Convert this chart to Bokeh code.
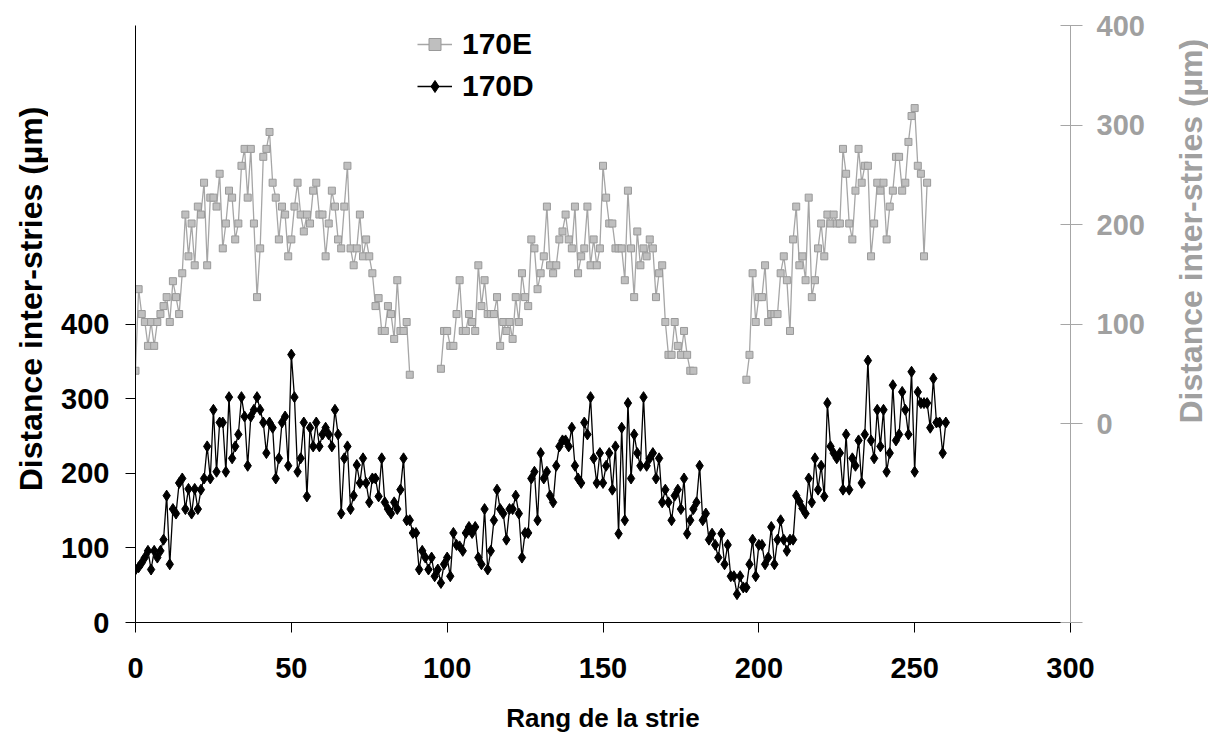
import math
import numpy as np
from bokeh.plotting import figure
from bokeh.layouts import row
from bokeh.models import (Range1d, LinearAxis, FixedTicker, Legend, LegendItem,
                          Label, ColumnDataSource)
from bokeh.embed import file_html
from bokeh.resources import INLINE

nan = float("nan")

# ---------------- data ----------------
series_e_name = "170E"
series_d_name = "170D"

# 170E (right axis), gaps where no measurement
e_seg1 = [53, 135, 110, 102, 78, 102, 78, 102, 110, 118, 127, 102, 143, 127, 110, 151, 210, 168, 201, 159,
          218, 210, 242, 159, 227, 227, 218, 251, 176, 201, 234, 227, 185, 201, 259, 276, 227, 276, 201, 127,
          176, 268, 276, 293, 242, 227, 185, 218, 210, 168, 185, 218, 242, 210, 193, 210, 201, 234, 242, 210,
          210, 168, 201, 234, 218, 185, 176, 218, 259, 176, 159, 176, 210, 168, 185, 168, 151, 118, 126, 93,
          93, 118, 110, 85, 144, 93, 93, 102, 49]
e_seg2 = [55, 93, 93, 78, 78, 110, 144, 93, 93, 110, 102, 93, 159, 118, 144, 110, 110, 110, 127, 78,
          102, 93, 102, 85, 127, 102, 151, 127, 118, 185, 176, 135, 151, 168, 218, 159, 151, 159, 185, 193,
          210, 185, 176, 218, 151, 168, 176, 218, 159, 185, 159, 176, 259, 227, 201, 201, 176, 176, 176, 144,
          234, 176, 127, 193, 159, 176, 168, 185, 176, 127, 151, 159, 102, 69, 69, 102, 78, 69, 93, 69,
          53, 53]
e_seg3 = [44, 69, 151, 102, 127, 127, 159, 102, 110, 110, 110, 151, 168, 144, 93, 185, 218, 159, 168, 144,
          227, 127, 144, 176, 201, 168, 210, 201, 210, 201, 201, 276, 251, 201, 185, 234, 276, 242, 259, 259,
          168, 201, 242, 234, 242, 185, 218, 234, 268, 268, 234, 242, 283, 309, 317, 259, 251, 168, 242]
e_values = e_seg1 + [nan] * 9 + e_seg2 + [nan] * 16 + e_seg3

# 170D (left axis)
d_values = [71, 74, 80, 87, 96, 71, 96, 87, 96, 111, 170, 78, 152, 146, 187, 193, 152, 179, 146, 179,
            152, 178, 193, 236, 193, 285, 202, 268, 268, 202, 302, 220, 236, 252, 302, 276, 210, 276, 285, 302,
            285, 268, 227, 268, 261, 193, 220, 268, 276, 210, 359, 302, 202, 220, 268, 169, 261, 236, 268, 236,
            252, 261, 252, 236, 285, 252,
            146, 220, 236, 152, 170, 211, 187, 220, 187, 161, 193, 193, 169, 220, 161, 152, 146, 161, 152, 178,
            220, 137, 137, 120, 120, 71, 96, 87, 71, 87, 62, 71, 53, 78, 87, 62, 120, 104, 102, 96,
            120, 128, 120, 128, 87, 78, 152, 71, 96, 137, 178, 152, 146, 111, 152, 152, 170, 146, 87, 120,
            120, 193, 202, 137, 227, 193,
            202, 170, 161, 210, 236, 244, 244, 236, 261, 210, 193, 187, 268, 252, 302, 220, 187, 227, 187, 210,
            227, 178, 236, 119, 261, 137, 294, 193, 252, 227, 210, 302, 210, 220, 227, 193, 220, 161, 178, 161,
            137, 170, 178, 152, 193, 119, 137, 152, 161, 210, 137, 146, 111, 119, 104, 87, 119, 78, 104, 62,
            62, 38, 62, 47, 47, 78,
            111, 62, 104, 104, 78, 87, 128, 78, 111, 137, 111, 96, 111, 111, 170, 162, 153, 146, 193, 161,
            220, 178, 210, 169, 294, 236, 227, 220, 227, 178, 252, 178, 220, 210, 244, 187, 252, 351, 244, 220,
            285, 236, 285, 202, 227, 318, 244, 252, 309, 285, 252, 336, 202, 309, 294, 294, 294, 261, 327, 268,
            268, 227, 268]

e_rank = list(range(len(e_values)))
d_rank = list(range(len(d_values)))

x_ticks = [0, 50, 100, 150, 200, 250, 300]
left_ticks = [0, 100, 200, 300, 400]
right_ticks = [-200, 0, 100, 200, 300, 400]

x_title = "Rang de la strie"
y_title = "Distance inter-stries (µm)"

# ---------------- style ----------------
FONT = "Liberation Sans"
GRAY = "#A6A6A6"
GRAY_TXT = "#A0A0A0"
TICK_FS = "29px"
H = 740

p = figure(frame_width=935, frame_height=597,
           x_range=Range1d(0, 300), y_range=Range1d(0, 800),
           output_backend="svg", toolbar_location=None,
           min_border_left=87, min_border_right=95, min_border_top=25, min_border_bottom=118)
p.extra_y_ranges = {"right": Range1d(-200, 400)}
p.outline_line_color = None
p.grid.visible = False
p.background_fill_color = "white"

# x axis
xa = p.xaxis[0]
xa.ticker = FixedTicker(ticks=x_ticks)
xa.axis_line_color = "black"
xa.major_tick_line_color = "black"
xa.major_tick_in = 0
xa.major_tick_out = 10
xa.minor_tick_line_color = None
xa.major_label_text_font = FONT
xa.major_label_text_font_style = "bold"
xa.major_label_text_font_size = TICK_FS
xa.major_label_text_color = "black"
xa.major_label_standoff = 25
xa.axis_label = x_title
xa.axis_label_text_font = FONT
xa.axis_label_text_font_style = "bold"
xa.axis_label_text_font_size = "26px"
xa.axis_label_text_color = "black"
xa.axis_label_standoff = 22

# left axis
ya = p.yaxis[0]
ya.ticker = FixedTicker(ticks=left_ticks)
ya.axis_line_color = "black"
ya.major_tick_line_color = "black"
ya.major_tick_in = 0
ya.major_tick_out = 10
ya.minor_tick_line_color = None
ya.major_label_text_font = FONT
ya.major_label_text_font_style = "bold"
ya.major_label_text_font_size = TICK_FS
ya.major_label_text_color = "black"
ya.major_label_standoff = 16

# right axis
ra = LinearAxis(y_range_name="right", ticker=FixedTicker(ticks=right_ticks),
                major_label_overrides={-200: ""})
ra.axis_line_color = GRAY
ra.major_tick_line_color = GRAY
ra.major_tick_in = 10
ra.major_tick_out = 12
ra.minor_tick_line_color = None
ra.major_label_text_color = GRAY_TXT
ra.major_label_text_font = FONT
ra.major_label_text_font_style = "bold"
ra.major_label_text_font_size = TICK_FS
ra.major_label_standoff = 14
p.add_layout(ra, "right")

# series
src_e = ColumnDataSource(dict(x=e_rank, y=np.array(e_values, dtype=float)))
src_d = ColumnDataSource(dict(x=d_rank, y=np.array(d_values, dtype=float)))

gl = p.line("x", "y", source=src_e, y_range_name="right", line_color=GRAY, line_width=1.3)
gs = p.scatter("x", "y", source=src_e, y_range_name="right", marker="square", size=7,
               fill_color="#BFBFBF", line_color="#999999", line_width=1)
bl = p.line("x", "y", source=src_d, line_color="black", line_width=1.3)
bs = p.scatter("x", "y", source=src_d, marker="diamond", size=11,
               fill_color="black", line_color="black")

legend = Legend(items=[LegendItem(label=series_e_name, renderers=[gl, gs]),
                       LegendItem(label=series_d_name, renderers=[bl, bs])],
                location=(282, 519), orientation="vertical",
                label_text_font=FONT, label_text_font_style="bold", label_text_font_size="30px",
                label_text_color="black",
                glyph_width=35, glyph_height=30, label_height=30, spacing=8,
                padding=0, margin=0, label_standoff=10,
                border_line_color=None, background_fill_alpha=0)
p.add_layout(legend)


def title_panel(width, cx, cy, color):
    f = figure(width=width, height=H, x_range=Range1d(0, width), y_range=Range1d(0, H),
               output_backend="svg", toolbar_location=None, min_border=0,
               x_axis_type=None, y_axis_type=None)
    f.outline_line_color = None
    f.grid.visible = False
    f.add_layout(Label(x=cx, y=H - cy, text=y_title, angle=math.pi / 2,
                       text_align="center", text_baseline="middle",
                       text_font=FONT, text_font_style="bold", text_font_size="32px",
                       text_color=color))
    return f


left_t = title_panel(48, 30, 339, "black")
right_t = title_panel(43, 25, 255, GRAY_TXT)

layout = row(left_t, p, right_t, spacing=0)

open("out.html", "w").write(file_html(layout, INLINE))
